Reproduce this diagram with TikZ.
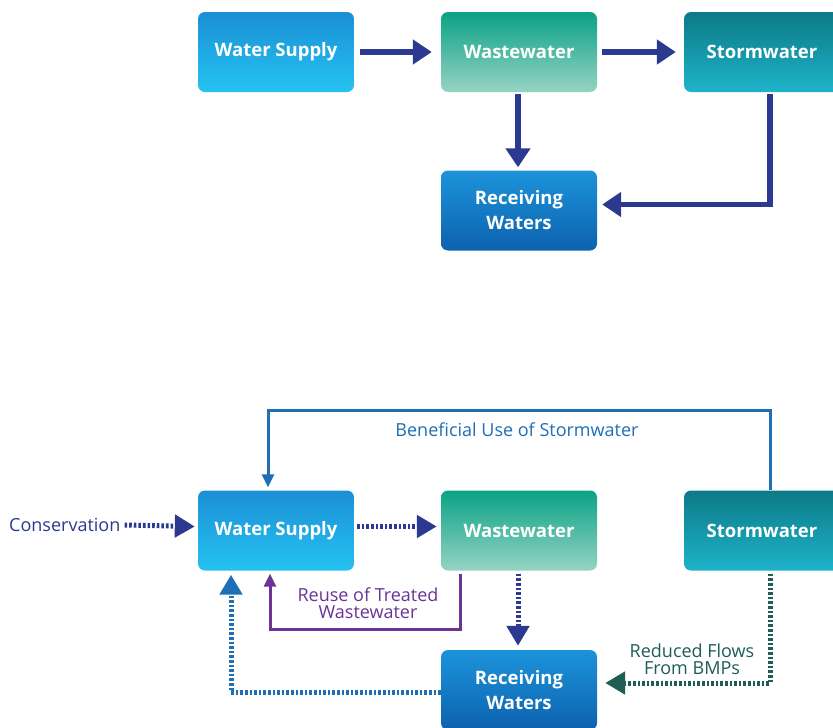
\documentclass[tikz,border=0pt]{standalone}
\usepackage{fontspec}
\setmainfont{Open Sans}
\usetikzlibrary{arrows.meta}
\definecolor{navy}{HTML}{2B3990}
\definecolor{bublue}{HTML}{1F6FB7}
\definecolor{reusep}{HTML}{6A3497}
\definecolor{bmpgreen}{HTML}{1E5E55}
\definecolor{wsTop}{HTML}{1B8FD6}
\definecolor{wsBot}{HTML}{25C3F1}
\definecolor{wwTop}{HTML}{0AA285}
\definecolor{wwBot}{HTML}{96D3C4}
\definecolor{swTop}{HTML}{0C7A86}
\definecolor{swBot}{HTML}{1EB3CA}
\definecolor{rwTop}{HTML}{1C93DA}
\definecolor{rwBot}{HTML}{0D62AE}
\tikzset{
  box/.style={rounded corners=7pt, minimum width=156pt, minimum height=80pt,
    text=white, font=\bfseries\fontsize{18.5}{22}\selectfont, align=center, inner sep=0pt},
  wsbox/.style={box, top color=wsTop, bottom color=wsBot},
  wwbox/.style={box, top color=wwTop, middle color=wwTop!80!wwBot, bottom color=wwBot},
  swbox/.style={box, top color=swTop, bottom color=swBot},
  rwbox/.style={box, top color=rwTop, bottom color=rwBot},
  solidarr/.style={draw=navy, line width=5.5pt, -{Triangle[length=19pt,width=24pt]}},
  dotarr/.style={line width=5pt, dash pattern=on 2.6pt off 2pt, -{Triangle[length=20pt,width=22pt]}},
  thinarr/.style={line width=3pt, -{Triangle[length=13pt,width=12pt]}},
  lbl/.style={font=\fontsize{18}{19}\selectfont, align=center, inner sep=0pt}
}
\begin{document}
\begin{tikzpicture}[x=1pt,y=-1pt]
\clip (0,0) rectangle (833,728);
\fill[white] (0,0) rectangle (833,728);
% top diagram
\node[wsbox] (ws) at (276,52) {Water Supply};
\node[wwbox] (ww) at (519,52) {Wastewater};
\node[swbox] (sw) at (762,52) {Stormwater};
\node[rwbox] (rw) at (519,210.5) {Receiving\\[3pt]Waters};
\draw[solidarr] ([xshift=6pt]ws.east) -- ([xshift=-9pt]ww.west);
\draw[solidarr] ([xshift=5pt]ww.east) -- ([xshift=-8pt]sw.west);
\draw[solidarr] ([xshift=-1pt,yshift=-2pt]ww.south) -- ([xshift=-1pt,yshift=3pt]rw.north);
\draw[solidarr] ([xshift=8pt,yshift=-2pt]sw.south) |- ([xshift=5pt,yshift=6pt]rw.east);
% bottom diagram
\node[wsbox] (ws2) at (276,530.5) {Water Supply};
\node[wwbox] (ww2) at (519,530.5) {Wastewater};
\node[swbox] (sw2) at (762,530.5) {Stormwater};
\node[rwbox] (rw2) at (519,690) {Receiving\\[3pt]Waters};
\node[lbl, text=navy, anchor=west] (cons) at (9,525) {Conservation};
\node[lbl, text=bublue] (bulbl) at (517,430) {Beneficial Use of Stormwater};
\node[lbl, text=reusep] (reulbl) at (368,603) {Reuse of Treated\\[-2pt]Wastewater};
\node[lbl, text=bmpgreen] (bmplbl) at (692,659) {Reduced Flows\\[-2pt]From BMPs};
\coordinate (bur) at (770,410);
\coordinate (bul) at (268,410);
\coordinate (rr) at (460,629);
\coordinate (rl) at (270,629);
\coordinate (rb) at (231,692);
\coordinate (sb) at (770,683);
\draw[dotarr, draw=navy] ([xshift=4pt]cons.east) -- ([xshift=-3pt,yshift=4pt]ws2.west);
\draw[dotarr, draw=navy] ([xshift=3pt,yshift=4pt]ws2.east) -- ([xshift=-4pt,yshift=4pt]ww2.west);
\draw[dotarr, draw=navy] ([xshift=-1pt,yshift=-3pt]ww2.south) -- ([xshift=-1pt,yshift=4pt]rw2.north);
\draw[thinarr, draw=bublue] ([xshift=8pt]sw2.north) -- (bur) -- (bul) -- ([xshift=-8pt,yshift=3pt]ws2.north);
\draw[thinarr, draw=reusep] ([xshift=-59pt,yshift=-3pt]ww2.south) -- (rr) -- (rl) -- ([xshift=-6pt,yshift=-3pt]ws2.south);
\draw[dotarr, draw=bublue] ([yshift=-2pt]rw2.west) -- (rb) -- ([xshift=-45pt,yshift=-4pt]ws2.south);
\draw[dotarr, draw=bmpgreen] ([xshift=8pt,yshift=-3pt]sw2.south) -- (sb) -- ([xshift=8pt,yshift=7pt]rw2.east);
\end{tikzpicture}
\end{document}
